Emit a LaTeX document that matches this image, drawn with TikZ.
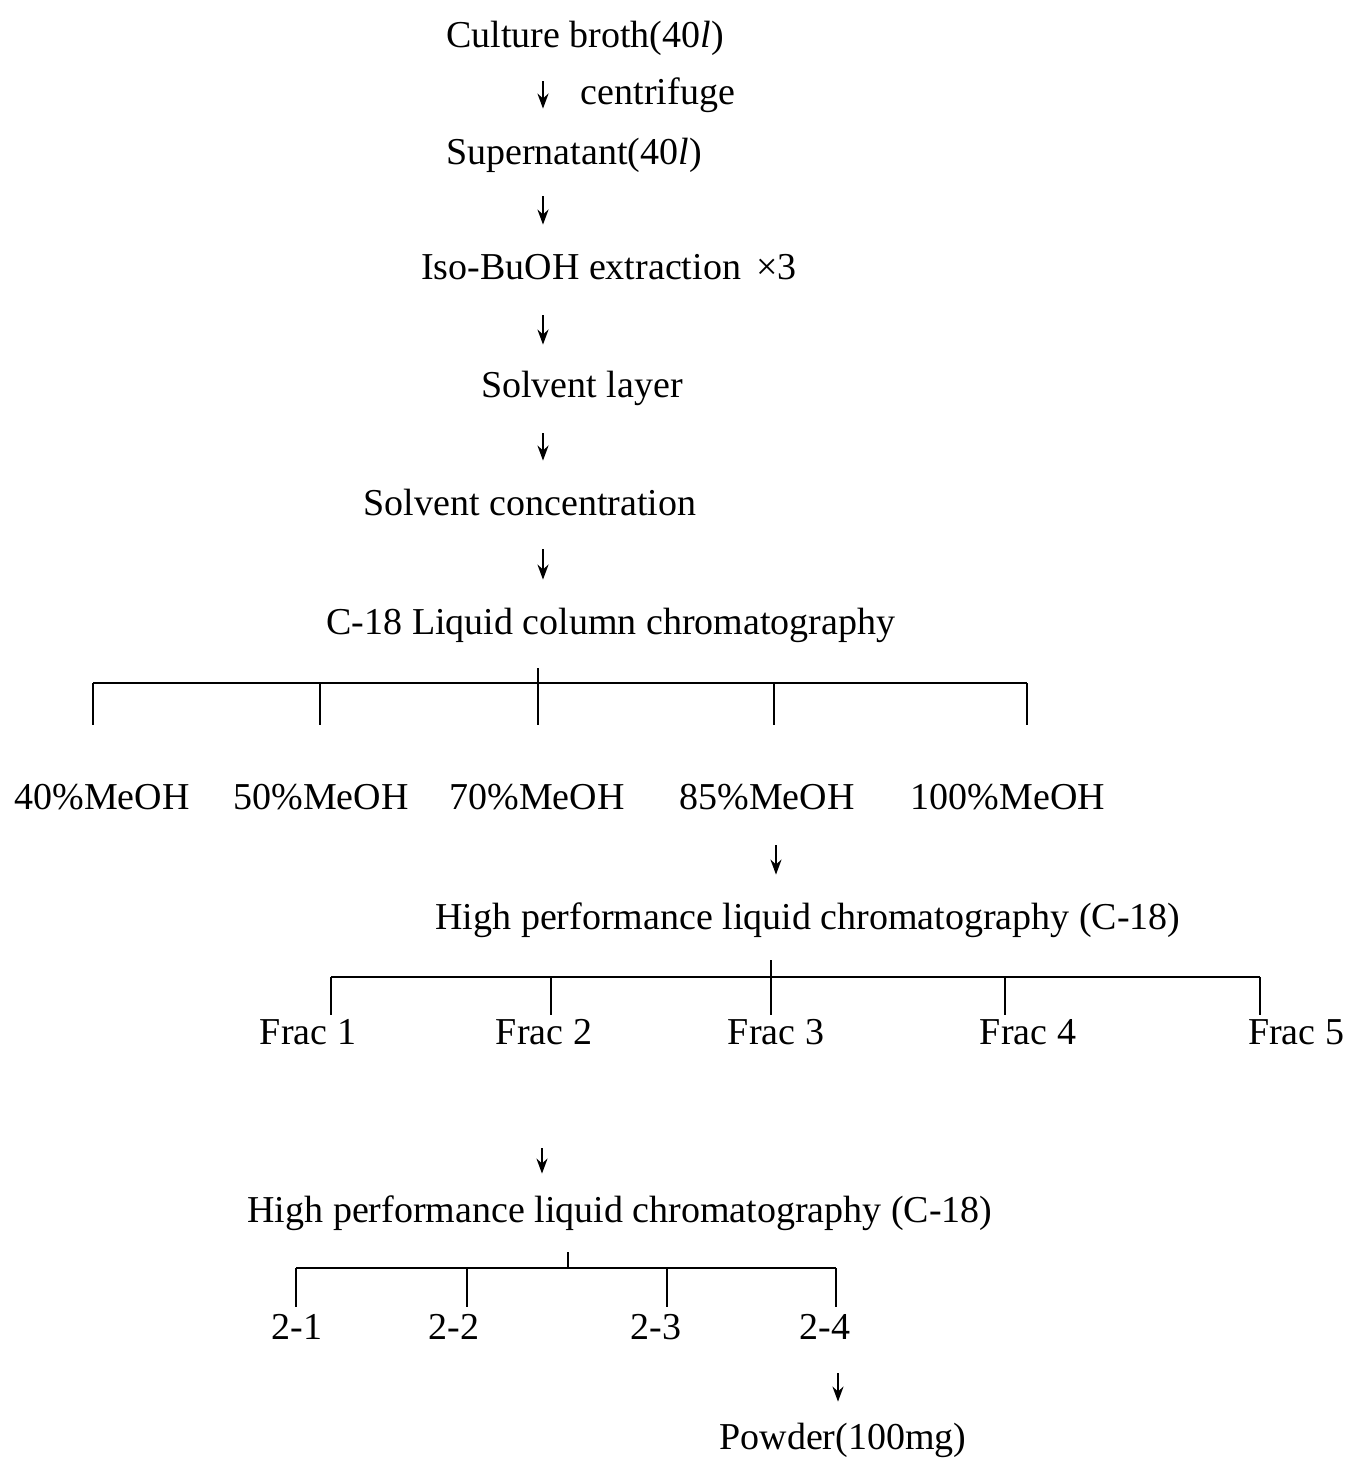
\documentclass[tikz,border=0pt]{standalone}
\usepackage{fontspec}
\setmainfont{Liberation Serif}
\usetikzlibrary{arrows.meta}
\begin{document}
\begin{tikzpicture}[x=0.5pt,y=-0.5pt,
  lbl/.style={inner sep=0pt, text height=13pt, text depth=4pt, font=\fontsize{19}{23}\selectfont},
  arr/.style={line width=1.1pt, -{Stealth[length=7.5pt,width=5.5pt]}},
  bar/.style={line width=1.4pt},
]
\useasboundingbox (0,0) rectangle (1348,1463);

% main column
\node[lbl] (cb)  at (585,38)  {Culture broth(40\textit{l})};
\node[lbl] (cf)  at (658,95)  {centrifuge};
\node[lbl] (sn)  at (574,155) {Supernatant(40\textit{l})};
\node[lbl] (iso) at (609,270) {Iso-BuOH extraction\hspace{0.4em}×3};
\node[lbl] (sl)  at (582,388) {Solvent layer};
\node[lbl] (sc)  at (530,506) {Solvent concentration};
\node[lbl] (c18) at (611,625) {C-18 Liquid column chromatography};

% MeOH fractions
\node[lbl] (m1) at (102,800)  {40\%MeOH};
\node[lbl] (m2) at (321,800)  {50\%MeOH};
\node[lbl] (m3) at (537,800)  {70\%MeOH};
\node[lbl] (m4) at (767,800)  {85\%MeOH};
\node[lbl] (m5) at (1008,800) {100\%MeOH};

\node[lbl] (h1) at (808,920) {High performance liquid chromatography (C-18)};

\node[lbl] (f1) at (308,1035)  {Frac 1};
\node[lbl] (f2) at (544,1035)  {Frac 2};
\node[lbl] (f3) at (776,1035)  {Frac 3};
\node[lbl] (f4) at (1028,1035) {Frac 4};
\node[lbl] (f5) at (1296,1035) {Frac 5};

\node[lbl] (h2) at (620,1213) {High performance liquid chromatography (C-18)};

\node[lbl] (s1) at (297,1330) {2-1};
\node[lbl] (s2) at (454,1330) {2-2};
\node[lbl] (s3) at (656,1330) {2-3};
\node[lbl] (s4) at (825,1330) {2-4};

\node[lbl] (pw) at (843,1440) {Powder(100mg)};

% arrow columns
\coordinate (ax) at (543,0);
\coordinate (ax6) at (776,0);
\coordinate (ax7) at (542,0);
\coordinate (ax8) at (838,0);

\draw[arr, shorten <=13pt, shorten >=14.5pt] (cb.south -| ax) -- (sn.north -| ax);
\draw[arr, shorten <=12pt, shorten >=14pt] (sn.south -| ax) -- (iso.north -| ax);
\draw[arr, shorten <=14pt, shorten >=13pt] (iso.south -| ax) -- (sl.north -| ax);
\draw[arr, shorten <=14pt, shorten >=14pt] (sl.south -| ax) -- (sc.north -| ax);
\draw[arr, shorten <=13pt, shorten >=14pt] (sc.south -| ax) -- (c18.north -| ax);
\draw[arr, shorten <=14pt, shorten >=14pt] (m4.south -| ax6) -- (h1.north -| ax6);
\draw[arr, shorten <=48pt, shorten >=11pt] (f2.south -| ax7) -- (h2.north -| ax7);
\draw[arr, shorten <=13pt, shorten >=10.5pt] (s4.south -| ax8) -- (pw.north -| ax8);

% tree 1
\coordinate (j1) at (538,683);
\draw[bar] ([yshift=-13pt]c18.south -| j1) -- (j1);
\foreach \x [count=\i] in {93,320,538,774,1027} \coordinate (d1\i) at (\x,683);
\draw[bar] (d11) -- (d15);
\foreach \i in {1,...,5} \draw[bar, shorten >=29pt] (d1\i) -- (d1\i |- m1.north);

% tree 2
\coordinate (j2) at (771,977);
\draw[bar] ([yshift=-11.5pt]h1.south -| j2) -- (j2);
\foreach \x [count=\i] in {331,551,771,1005,1260} \coordinate (d2\i) at (\x,977);
\draw[bar] (d21) -- (d25);
\foreach \i in {1,...,5} \draw[bar, shorten >=1.5pt] (d2\i) -- (d2\i |- f1.north);

% tree 3
\coordinate (j3) at (568,1268);
\draw[bar] ([yshift=-11pt]h2.south -| j3) -- (j3);
\foreach \x [count=\i] in {296,467,667,836} \coordinate (d3\i) at (\x,1268);
\draw[bar] (d31) -- (d34);
\foreach \i in {1,...,4} \draw[bar, shorten >=3pt] (d3\i) -- (d3\i |- s1.north);

\end{tikzpicture}
\end{document}
